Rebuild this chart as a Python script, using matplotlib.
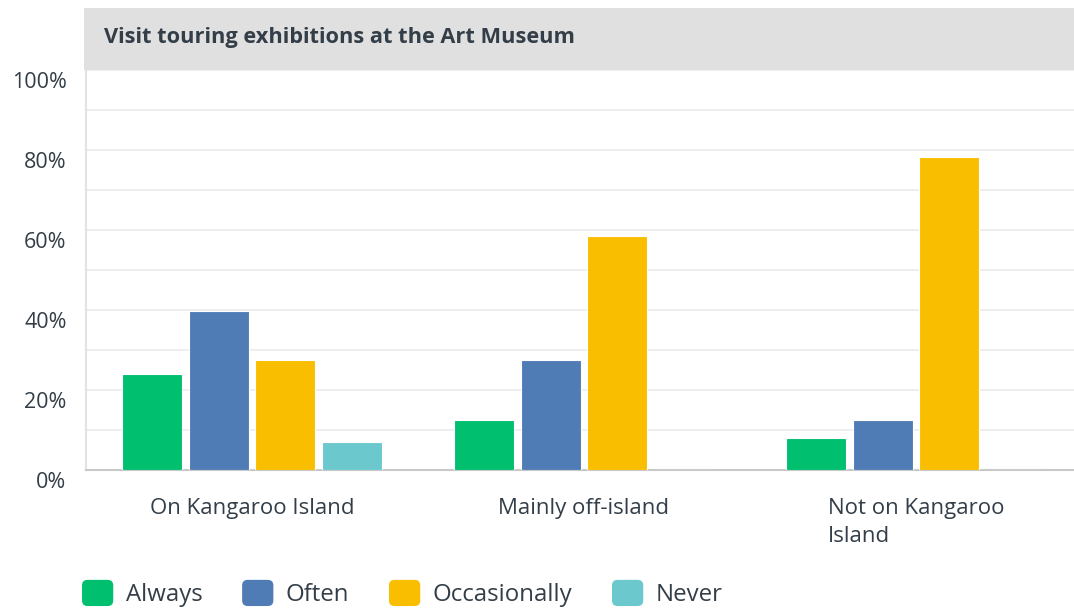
import numpy as np
import matplotlib
matplotlib.use("Agg")
import matplotlib.pyplot as plt
from matplotlib.patches import Rectangle, FancyBboxPatch
from matplotlib.legend_handler import HandlerPatch
import matplotlib.transforms as mtransforms

plt.rcParams['font.family'] = ['Open Sans', 'DejaVu Sans']

# data
title = "Visit touring exhibitions at the Art Museum"
groups = ["On Kangaroo Island", "Mainly off-island", "Not on Kangaroo\nIsland"]
series = ["Always", "Often", "Occasionally", "Never"]
always = [24.1, 12.6, 8.1]
often = [39.7, 27.6, 12.6]
occasionally = [27.6, 58.6, 78.2]
never = [6.9, 0.0, 0.0]
colors = ["#00bf6f", "#507cb6", "#f9be00", "#6bc8cd"]
yticks = [0, 20, 40, 60, 80, 100]

text_col = "#333e48"

fig = plt.figure(figsize=(10.74, 6.13), dpi=100)
ax = fig.add_axes([86 / 1074, 1 - 470 / 613, 1 - 86 / 1074, 400 / 613])

# gray title bar
fig.patches.append(Rectangle((84 / 1074, 1 - 70 / 613), 1, 62 / 613,
                             transform=fig.transFigure, facecolor="#e0e0e0",
                             edgecolor="none", zorder=0))
fig.text(104 / 1074, 1 - 37 / 613, title, fontsize=15.7, fontweight="bold",
         color=text_col, va="center", ha="left")

x = np.arange(len(groups))
width = 0.181
offsets = [-0.3, -0.1, 0.1, 0.3]
bars = []
for vals, off, c, name in zip([always, often, occasionally, never], offsets, colors, series):
    b = ax.bar(x + off, vals, width, color=c, edgecolor="white", linewidth=0.8,
               label=name, zorder=3)
    bars.append(b)

ax.set_xlim(-0.5, 2.476)
ax.set_ylim(0, 100)
ax.set_yticks(yticks)
ax.set_yticklabels([f"{t}%" for t in yticks], fontsize=15.5, color=text_col)
ax.set_yticks(np.arange(0, 101, 10), minor=True)
ax.grid(axis="y", which="both", color="#ebebeb", linewidth=1.2, zorder=0)
ax.tick_params(axis="y", which="both", length=0, pad=14)

# labels sit a bit below their grid line
offset = mtransforms.ScaledTranslation(0, -10 / 100, fig.dpi_scale_trans)
for lab in ax.get_yticklabels():
    lab.set_transform(lab.get_transform() + offset)

ax.set_xticks(x)
ax.set_xticklabels(groups, fontsize=16, color=text_col, multialignment="left",
                   linespacing=1.45)
ax.tick_params(axis="x", length=0, pad=20)

for s in ["top", "right"]:
    ax.spines[s].set_visible(False)
ax.spines["left"].set_color("#e3e3e3")
ax.spines["left"].set_linewidth(1.5)
ax.spines["bottom"].set_color("#c8c8c8")
ax.spines["bottom"].set_linewidth(1.5)


class RoundHandler(HandlerPatch):
    def create_artists(self, legend, orig_handle, xdescent, ydescent,
                       width, height, fontsize, trans):
        p = FancyBboxPatch((-xdescent + 3, -ydescent + 3), width - 6, height - 6,
                           boxstyle="round,pad=3,rounding_size=4",
                           facecolor=orig_handle.patches[0].get_facecolor(),
                           edgecolor="none", transform=trans)
        return [p]


leg = fig.legend(bars, series, loc="lower left", bbox_to_anchor=(82 / 1074, 6 / 613),
                 ncol=4, frameon=False, fontsize=17.3, handlelength=1.3,
                 handleheight=1.3, handletextpad=0.52, columnspacing=1.65,
                 borderpad=0, borderaxespad=0,
                 handler_map={type(bars[0]): RoundHandler()})
for t in leg.get_texts():
    t.set_color(text_col)

fig.savefig("out.png", dpi=100)
